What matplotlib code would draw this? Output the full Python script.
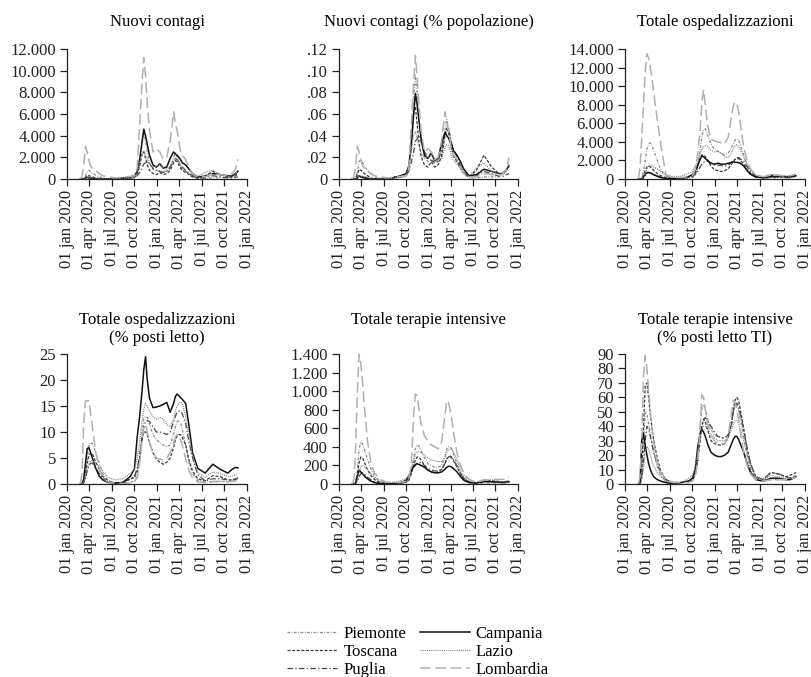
"""Regional COVID-19 indicators in six small panels with one shared legend."""

from __future__ import annotations

import matplotlib

matplotlib.use("Agg")
import matplotlib.pyplot as plt
import pandas as pd

# Sample dates (denser around the peaks of each wave)
DATES = [
    "2020-02-24", "2020-03-02", "2020-03-09", "2020-03-16", "2020-03-23", "2020-03-30",
    "2020-04-06", "2020-04-13", "2020-04-20", "2020-04-27", "2020-05-11", "2020-05-25",
    "2020-06-15", "2020-07-15", "2020-08-15", "2020-09-15",
    "2020-10-01", "2020-10-12", "2020-10-22", "2020-11-01", "2020-11-08", "2020-11-15",
    "2020-11-22", "2020-12-01", "2020-12-15", "2020-12-29",
    "2021-01-12", "2021-01-26", "2021-02-09", "2021-02-23", "2021-03-09", "2021-03-16",
    "2021-03-23", "2021-03-30", "2021-04-06", "2021-04-13", "2021-04-27", "2021-05-11",
    "2021-05-25", "2021-06-15", "2021-07-15", "2021-08-15", "2021-09-15", "2021-10-15",
    "2021-11-01", "2021-11-15", "2021-11-25",
]

REGIONS = ["Piemonte", "Toscana", "Puglia", "Campania", "Lazio", "Lombardia"]

X_TICKS = ["2020-01-01", "2020-04-01", "2020-07-01", "2020-10-01", "2021-01-01",
           "2021-04-01", "2021-07-01", "2021-10-01", "2022-01-01"]
X_TICK_LABELS = ["01 jan 2020", "01 apr 2020", "01 jul 2020", "01 oct 2020", "01 jan 2021",
                 "01 apr 2021", "01 jul 2021", "01 oct 2021", "01 jan 2022"]

nuovi_contagi = {
    "Piemonte": [0, 0, 30, 300, 700, 800, 650, 550, 450, 350, 200, 100, 30, 20, 30, 80,
                 100, 400, 1500, 3200, 4200, 3500, 2500, 1500, 900, 700,
                 800, 700, 700, 1000, 2000, 2400, 2100, 1700, 1100, 900, 700, 400, 200, 60,
                 50, 100, 100, 100, 200, 300, 600],
    "Toscana": [0, 0, 20, 150, 350, 300, 250, 200, 150, 100, 40, 10, 5, 5, 60, 80,
                150, 400, 1200, 2300, 2500, 1900, 1300, 800, 500, 400,
                600, 400, 500, 800, 1500, 1700, 1600, 1300, 1000, 800, 600, 400, 200, 80,
                300, 700, 400, 200, 200, 300, 500],
    "Puglia": [0, 0, 5, 40, 120, 100, 80, 70, 60, 40, 10, 5, 2, 5, 30, 100,
               150, 300, 600, 1000, 1400, 1500, 1600, 1400, 1000, 800,
               700, 600, 700, 1100, 1700, 1900, 1800, 1600, 1300, 1100, 800, 500, 300, 100,
               100, 300, 200, 100, 100, 150, 200],
    "Campania": [0, 0, 10, 60, 150, 120, 80, 50, 30, 20, 10, 5, 5, 20, 80, 200,
                 300, 700, 1800, 3500, 4600, 4000, 3200, 2200, 1300, 1100,
                 1400, 1000, 1100, 1900, 2500, 2300, 2200, 2000, 1800, 1500, 1300, 900, 500,
                 200, 250, 500, 400, 300, 300, 500, 700],
    "Lazio": [0, 0, 10, 80, 200, 180, 150, 120, 100, 80, 30, 10, 10, 20, 80, 150,
              200, 600, 1500, 2400, 2600, 2200, 1800, 1400, 1100, 1200,
              1300, 1000, 900, 1100, 1700, 1900, 1800, 1500, 1200, 1000, 800, 500, 300, 200,
              600, 800, 400, 300, 350, 500, 800],
    "Lombardia": [0, 250, 1300, 3000, 2500, 1700, 1200, 1000, 900, 750, 500, 300, 200, 100,
                  150, 250,
                  300, 1000, 5000, 9000, 11200, 9500, 7000, 4500, 2500, 2800,
                  2500, 1800, 2000, 3500, 6200, 5200, 4500, 3500, 2500, 2200, 1800, 1000, 500,
                  200, 200, 500, 400, 300, 500, 900, 1800],
}

contagi_pct = {
    "Piemonte": [0, 0, .001, .007, .016, .018, .015, .013, .010, .008, .005, .002, .001, 0,
                 .001, .002,
                 .002, .009, .034, .073, .096, .080, .057, .034, .021, .016,
                 .018, .016, .016, .023, .046, .055, .048, .039, .025, .021, .016, .009, .005,
                 .001, .001, .002, .002, .002, .005, .007, .014],
    "Toscana": [0, 0, .001, .004, .009, .008, .007, .005, .004, .003, .001, 0, 0, 0, .002, .002,
                .004, .011, .032, .062, .067, .051, .035, .021, .013, .011,
                .016, .011, .013, .021, .040, .046, .043, .035, .027, .021, .016, .011, .005,
                .002, .008, .022, .011, .005, .005, .008, .013],
    "Puglia": [0, 0, 0, .001, .003, .0025, .002, .0017, .0015, .001, 0, 0, 0, 0, .0007, .0025,
               .0037, .007, .015, .025, .035, .037, .040, .035, .025, .020,
               .017, .015, .017, .027, .042, .047, .045, .040, .032, .027, .020, .012, .007,
               .0025, .0025, .007, .005, .0025, .0025, .004, .005],
    "Campania": [0, 0, 0, .001, .003, .002, .0015, .001, .0005, .0003, 0, 0, 0, .0003, .0014,
                 .0035,
                 .005, .012, .031, .060, .079, .069, .055, .038, .022, .019,
                 .024, .017, .019, .033, .043, .040, .038, .034, .031, .026, .022, .016, .009,
                 .003, .004, .009, .007, .005, .005, .009, .012],
    "Lazio": [0, 0, 0, .001, .003, .003, .0025, .002, .0017, .0014, .0005, 0, 0, .0003, .0014,
              .0026,
              .0034, .010, .026, .041, .044, .037, .031, .024, .019, .020,
              .022, .017, .015, .019, .029, .032, .031, .026, .020, .017, .014, .009, .005,
              .003, .010, .015, .007, .005, .006, .009, .014],
    "Lombardia": [0, .002, .013, .030, .025, .017, .012, .010, .009, .007, .005, .003, .002,
                  .001, .0015, .0025,
                  .003, .010, .050, .090, .114, .095, .070, .045, .025, .028,
                  .025, .018, .020, .035, .062, .052, .045, .035, .025, .022, .018, .010, .005,
                  .002, .002, .005, .004, .003, .005, .009, .020],
}

ospedalizzazioni = {
    "Piemonte": [0, 0, 100, 800, 2000, 3200, 3800, 3900, 3600, 3000, 2000, 1000, 300, 100, 50,
                 80,
                 150, 400, 1200, 3000, 4500, 5300, 5400, 4800, 3800, 3200,
                 3000, 2700, 2600, 2800, 3400, 3900, 4200, 4300, 4200, 3700, 2600, 1400, 600,
                 200, 100, 120, 150, 150, 200, 300, 400],
    "Toscana": [0, 0, 50, 400, 900, 1300, 1400, 1300, 1100, 900, 600, 350, 150, 50, 80, 250,
                300, 600, 1300, 2200, 2600, 2600, 2400, 2000, 1400, 1000,
                900, 800, 900, 1100, 1600, 1900, 2100, 2200, 2200, 2000, 1600, 1000, 600, 250,
                150, 400, 350, 200, 200, 250, 350],
    "Puglia": [0, 0, 10, 100, 350, 600, 700, 650, 600, 500, 350, 200, 80, 30, 60, 200,
               300, 500, 800, 1300, 1600, 1800, 1900, 1900, 1700, 1500,
               1500, 1450, 1400, 1500, 1800, 2000, 2200, 2300, 2300, 2200, 1900, 1300, 800, 300,
               100, 200, 200, 150, 150, 200, 250],
    "Campania": [0, 0, 20, 200, 500, 700, 700, 650, 550, 450, 300, 150, 50, 30, 50, 250,
                 500, 900, 1500, 2100, 2500, 2400, 2200, 2000, 1700, 1600,
                 1700, 1600, 1600, 1700, 1800, 1850, 1800, 1800, 1750, 1700, 1400, 900, 500,
                 200, 150, 250, 300, 250, 250, 300, 350],
    "Lazio": [0, 0, 50, 200, 600, 1100, 1400, 1500, 1400, 1300, 1100, 800, 400, 250, 300, 600,
              850, 1400, 2000, 2800, 3200, 3500, 3600, 3500, 3100, 2900,
              3000, 2800, 2400, 2300, 2800, 3300, 3600, 3700, 3500, 3200, 2400, 1600, 1000,
              400, 250, 500, 450, 300, 350, 450, 550],
    "Lombardia": [0, 1200, 4500, 8000, 11500, 13500, 13000, 12000, 10800, 9200, 6400, 3700,
                  500, 150, 150, 250,
                  400, 1000, 2600, 5200, 8200, 9600, 8000, 5800, 4300, 4100,
                  4000, 3900, 3800, 4500, 6800, 7900, 8300, 8100, 7300, 6000, 3400, 2000, 1100,
                  400, 250, 400, 400, 300, 350, 450, 550],
}

posti_letto_pct = {
    "Piemonte": [0, 0, 0.3, 2, 5, 7.5, 8, 7.8, 7, 6, 4, 2, 0.7, 0.2, 0.2, 0.3,
                 0.6, 1.5, 4.5, 10, 12.5, 13, 12.8, 11.5, 9.5, 8.5,
                 8, 7.5, 7.2, 7.5, 9.5, 11, 12, 12.2, 11.8, 10.5, 7.5, 4, 2, 0.7, 0.4, 0.4,
                 0.5, 0.5, 0.6, 0.8, 1],
    "Toscana": [0, 0, 0.3, 2, 4, 5.5, 6, 5.8, 5, 4.2, 2.8, 1.5, 0.6, 0.2, 0.3, 1,
                1.2, 2.5, 5, 8.5, 10, 10, 9.5, 8, 6, 4.8,
                4.2, 3.8, 4.2, 5, 7, 8.5, 9.2, 9.5, 9.5, 9, 7.5, 4.5, 2.5, 1, 0.6, 1.6, 1.4,
                0.8, 0.8, 1, 1.3],
    "Puglia": [0, 0, 0.2, 1, 2.5, 3.5, 4, 4, 3.6, 3, 2, 1.2, 0.4, 0.2, 0.3, 1,
               1.5, 3, 5.5, 9, 11, 12, 12.2, 12, 11, 10,
               10, 9.8, 9.5, 10, 12, 13, 13.8, 14, 14, 13.5, 11.5, 8, 5, 1.8, 0.6, 1, 1, 0.8,
               0.7, 0.9, 1.1],
    "Campania": [0, 0, 1, 4, 6.8, 7, 6, 5, 4, 3, 1.5, 0.8, 0.3, 0.2, 0.3, 1.5,
                 3, 9, 13, 18, 22, 24.5, 20, 16.5, 14.7, 14.8,
                 15, 15.3, 15.7, 13.8, 15.5, 16.8, 17.3, 17, 16.6, 16.3, 15.5, 11, 6, 3, 2.1,
                 3.8, 2.8, 2.1, 2.8, 3.2, 3.1],
    "Lazio": [0, 0, 0.5, 1.5, 3, 4, 4.5, 4.5, 4.2, 4, 3.4, 2.5, 1.3, 0.8, 1, 2,
              3, 5, 8, 12, 14.5, 15.5, 15, 14, 13, 12.5,
              12.8, 12.5, 11.5, 11, 12.5, 14, 15, 15.5, 15.8, 15.5, 13, 9, 5.5, 2.2, 1.3, 2.3,
              2, 1.4, 1.5, 1.8, 2],
    "Lombardia": [0, 2, 12, 16, 16, 16, 13.5, 11, 8.5, 6, 3, 1.2, 0.4, 0.2, 0.1, 0.2,
                  0.4, 1.2, 4, 8.5, 11, 11.5, 10, 8, 6, 5,
                  4.8, 4.6, 5, 6, 8, 9, 9.5, 9.3, 8.5, 7.5, 4.8, 2.5, 1.2, 0.4, 0.3, 0.5, 0.5,
                  0.4, 0.5, 0.6, 0.7],
}

terapie_intensive = {
    "Piemonte": [0, 0, 20, 150, 380, 450, 430, 380, 320, 260, 160, 90, 30, 10, 5, 8,
                 15, 40, 120, 280, 380, 420, 410, 360, 280, 220,
                 200, 180, 180, 200, 300, 380, 400, 400, 380, 320, 220, 120, 60, 20, 8, 10, 12,
                 12, 15, 20, 25],
    "Toscana": [0, 0, 10, 100, 230, 290, 280, 240, 190, 150, 90, 50, 15, 5, 5, 10,
                20, 40, 110, 200, 260, 290, 290, 260, 200, 150,
                130, 120, 130, 160, 220, 270, 290, 290, 280, 250, 180, 110, 60, 20, 10, 40, 35,
                25, 20, 25, 30],
    "Puglia": [0, 0, 5, 30, 80, 110, 120, 110, 90, 70, 45, 25, 8, 3, 5, 15,
               30, 60, 120, 180, 200, 220, 230, 230, 200, 170,
               150, 140, 140, 160, 220, 270, 290, 300, 290, 260, 190, 110, 60, 20, 10, 30, 25,
               15, 12, 15, 20],
    "Campania": [0, 0, 10, 80, 150, 130, 110, 90, 70, 55, 30, 15, 5, 2, 5, 20,
                 40, 80, 140, 190, 210, 220, 210, 200, 180, 150,
                 130, 120, 120, 130, 160, 180, 190, 190, 180, 165, 130, 80, 40, 15, 10, 25, 25,
                 20, 20, 25, 25],
    "Lazio": [0, 0, 5, 40, 120, 190, 200, 190, 170, 150, 110, 70, 30, 15, 20, 40,
              60, 100, 170, 260, 320, 340, 350, 340, 310, 280,
              260, 250, 240, 240, 290, 340, 370, 380, 370, 340, 260, 160, 90, 30, 20, 50, 45,
              30, 25, 30, 40],
    "Lombardia": [0, 50, 400, 1000, 1400, 1300, 1100, 850, 650, 450, 220, 120, 50, 20, 15, 20,
                  30, 60, 200, 750, 970, 950, 820, 650, 520, 460,
                  420, 400, 380, 450, 750, 900, 880, 800, 680, 550, 330, 200, 110, 50, 20, 40,
                  50, 50, 50, 60, 80],
}

ti_pct = {
    "Piemonte": [0, 0, 5, 25, 50, 48, 42, 35, 28, 22, 12, 6, 2, 1, 1, 1,
                 2, 6, 18, 40, 52, 55, 52, 45, 38, 34,
                 33, 32, 32, 34, 42, 50, 54, 55, 52, 45, 33, 20, 10, 4, 2, 3, 3, 3, 4, 5, 6],
    "Toscana": [0, 0, 8, 40, 68, 70, 60, 48, 38, 30, 18, 9, 3, 1, 1, 2,
                3, 6, 15, 30, 40, 45, 43, 38, 30, 28,
                27, 27, 28, 32, 42, 52, 58, 60, 58, 52, 38, 24, 14, 5, 3, 8, 7, 5, 6, 7, 8],
    "Puglia": [0, 0, 3, 15, 30, 40, 38, 33, 27, 22, 14, 8, 3, 1, 1, 2,
               4, 8, 18, 32, 40, 44, 46, 44, 40, 36,
               33, 32, 32, 34, 42, 50, 55, 56, 54, 48, 38, 25, 14, 5, 3, 8, 7, 5, 4, 5, 6],
    "Campania": [0, 0, 30, 35, 27, 20, 14, 10, 7, 5, 3, 2, 1, 0, 1, 2,
                 4, 10, 25, 35, 38, 36, 33, 28, 22, 20,
                 19, 19, 20, 22, 28, 31, 33, 33, 31, 28, 22, 14, 8, 3, 2, 4, 4, 3, 3, 4, 5],
    "Lazio": [0, 0, 3, 12, 22, 26, 24, 20, 16, 12, 8, 5, 2, 1, 1, 4,
              6, 12, 22, 32, 38, 40, 40, 38, 34, 32,
              30, 30, 30, 32, 38, 42, 44, 44, 42, 38, 30, 20, 12, 5, 3, 6, 5, 4, 4, 5, 6],
    "Lombardia": [0, 5, 30, 75, 89, 80, 65, 50, 38, 28, 14, 8, 3, 1, 1, 1,
                  2, 5, 15, 38, 62, 60, 52, 42, 34, 30,
                  28, 28, 28, 33, 50, 58, 56, 52, 45, 36, 22, 13, 7, 3, 2, 3, 3, 3, 4, 4, 5],
}

# Line look for each region (colour, dash pattern, width)
STYLES = {
    "Piemonte": ("#8a8a8a", (0, (2.2, 1.2, 0.6, 1.2)), 0.9),
    "Toscana": ("#3a3a3a", (0, (2.4, 1.3)), 0.9),
    "Puglia": ("#4a4a4a", (0, (4.5, 1.8, 1.0, 1.8)), 0.9),
    "Campania": ("#111111", "solid", 1.1),
    "Lazio": ("#808080", (0, (0.8, 0.9)), 0.9),
    "Lombardia": ("#b0b0b0", (0, (7, 3)), 1.1),
}


def thousands(v: float) -> str:
    return f"{int(v):,}".replace(",", ".")


def decimals(v: float) -> str:
    return "0" if v == 0 else f"{v:.2f}".lstrip("0")


def integer(v: float) -> str:
    return f"{int(v)}"


def main() -> None:
    plt.rcParams["font.family"] = ["Liberation Serif", "DejaVu Serif"]
    plt.rcParams["font.size"] = 12
    plt.rcParams["axes.linewidth"] = 0.9
    plt.rcParams["axes.edgecolor"] = "#222222"
    for ax_name in ("xtick", "ytick"):
        plt.rcParams[f"{ax_name}.major.size"] = 5
        plt.rcParams[f"{ax_name}.major.width"] = 0.9
        plt.rcParams[f"{ax_name}.major.pad"] = 3
        plt.rcParams[f"{ax_name}.color"] = "#222222"

    fw, fh = 812, 677
    fig = plt.figure(figsize=(fw / 100, fh / 100), dpi=100)

    dates = pd.to_datetime(DATES)
    xticks = pd.to_datetime(X_TICKS)

    panels = [
        (nuovi_contagi, ["Nuovi contagi"], 12000, 2000, thousands),
        (contagi_pct, ["Nuovi contagi (% popolazione)"], 0.12, 0.02, decimals),
        (ospedalizzazioni, ["Totale ospedalizzazioni"], 14000, 2000, thousands),
        (posti_letto_pct, ["Totale ospedalizzazioni", "(% posti letto)"], 25, 5, integer),
        (terapie_intensive, ["Totale terapie intensive"], 1400, 200, thousands),
        (ti_pct, ["Totale terapie intensive", "(% posti letto TI)"], 90, 10, integer),
    ]

    col_left = [67, 339, 625]
    col_width = [180, 179, 180]
    row_zero = [179, 484]
    plot_h = 130
    title_base = [[26], [324, 342]]

    handles = {}
    for i, (data, title, ymax, ystep, fmt) in enumerate(panels):
        r, c = divmod(i, 3)
        ax = fig.add_axes([col_left[c] / fw, 1 - row_zero[r] / fh,
                           col_width[c] / fw, plot_h / fh])
        for region in REGIONS:
            color, ls, lw = STYLES[region]
            (line,) = ax.plot(dates, data[region], color=color, linestyle=ls, lw=lw)
            handles[region] = line

        ax.set_xlim(xticks[0], xticks[-1])
        ax.set_ylim(0, ymax)
        yt = [k * ystep for k in range(round(ymax / ystep) + 1)]
        ax.set_yticks(yt)
        ax.set_yticklabels([fmt(round(v, 4)) for v in yt])
        ax.set_xticks(xticks)
        ax.set_xticklabels(X_TICK_LABELS, rotation=90)
        for side in ("top", "right"):
            ax.spines[side].set_visible(False)

        # Titles sit above each plot, one text per line
        xc = (col_left[c] + col_width[c] / 2) / fw
        for k, line_txt in enumerate(title):
            base = title_base[r][k] if r == 1 else title_base[0][k]
            fig.text(xc, 1 - base / fh, line_txt, ha="center", va="baseline", fontsize=12)

    fig.legend(
        [handles[r] for r in REGIONS], REGIONS,
        ncol=2, loc="center", bbox_to_anchor=(418 / fw, 1 - 652 / fh),
        frameon=False, fontsize=12, handlelength=3.0, handletextpad=0.35,
        columnspacing=0.8, labelspacing=0.12, borderpad=0,
    )

    fig.savefig("out.png", dpi=100)
    plt.close(fig)


if __name__ == "__main__":
    main()
